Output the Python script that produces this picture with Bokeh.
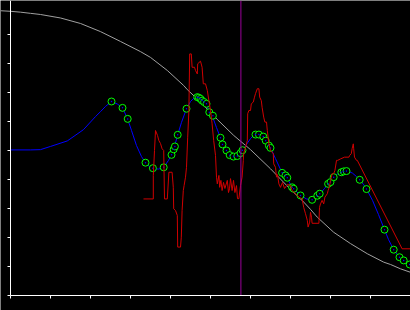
from bokeh.plotting import figure
from bokeh.models import Range1d, LinearAxis, FixedTicker, CustomJSTickFormatter
from bokeh.embed import file_html
from bokeh.resources import INLINE

# ---- data ----
gray_x = [-2.5, 0, 2.5, 5, 7.5, 12.5, 17.5, 22.5, 27.5, 32.5, 35, 39.2, 43.3, 44.2,
          47.5, 51.7, 55.8, 60, 65, 70, 72.9, 75, 76.7, 80.8, 85, 89.2, 93.3, 95, 97.5, 100]
gray_y = [98.2, 98.0, 97.7, 97.3, 96.9, 95.7, 93.8, 91.0, 87.6, 84.1, 82.1, 77.6, 72.4, 71.0,
          66.7, 60.7, 55.2, 50.3, 43.7, 36.6, 32.8, 29.7, 27.0, 21.8, 17.9, 14.4, 11.5, 10.7, 9.2, 8.0]

red_x = [33.25, 35.7, 35.7, 36.0, 36.25, 36.75, 37.1, 37.5, 37.9, 38.3,
         38.5, 39.2, 39.6, 40.4, 40.7, 40.8, 41.25, 41.7, 41.8, 42.5,
         42.7, 42.9, 43.2, 43.4, 43.75, 44.0, 44.3, 44.6, 44.8, 45.2,
         45.4, 46.0, 46.25, 46.7, 46.8, 47.5, 47.9, 48.2, 48.75, 49.2,
         49.6, 50.0, 50.4, 50.8, 51.25, 51.5, 51.7, 52.1, 52.3, 52.6,
         52.9, 53.25, 53.6, 54.2, 54.5, 54.75, 55.0, 55.4, 55.75, 56.1,
         56.5, 56.75, 57.1, 57.5, 57.9, 58.2, 58.3, 58.75, 59.2, 59.3,
         59.6, 60.0, 60.2, 60.7, 61.0, 61.25, 61.7, 62.1, 62.3, 62.7,
         62.9, 63.3, 63.6, 64.0, 64.2, 64.6, 65.0, 65.7, 65.8, 66.25,
         66.5, 66.75, 67.1, 67.5, 68.0, 68.5, 69.25, 70.0, 70.4, 71.25,
         72.1, 72.9, 73.3, 73.75, 74.2, 74.4, 74.8, 75.0, 75.25, 75.4,
         77.1, 77.25, 77.5, 77.9, 78.3, 78.6, 79.2, 79.4, 79.75, 80.0,
         80.4, 80.8, 81.1, 81.5, 81.8, 82.5, 83.5, 84.6, 84.8, 85.2,
         85.4, 85.7, 85.8, 86.0, 86.5, 86.7, 97.9, 100]
red_y = [33.3, 33.3, 41.4, 50.0, 56.9, 55.2, 53.4, 52.4, 50.6, 50.0,
         33.3, 33.3, 42.5, 42.5, 37.3, 29.9, 29.3, 27.6, 16.7, 16.7,
         20.1, 29.3, 36.2, 37.9, 40.8, 44.2, 54.6, 63.8, 83.3, 83.3,
         78.7, 78.7, 77.6, 76.4, 79.9, 80.8, 78.7, 73.0, 73.0, 70.7,
         67.2, 63.8, 59.2, 53.4, 48.3, 40.8, 38.5, 41.4, 37.3, 39.7,
         36.2, 39.0, 36.9, 39.7, 35.5, 36.8, 40.3, 36.2, 39.7, 35.5,
         37.9, 33.4, 33.4, 37.9, 40.8, 46.6, 49.0, 51.1, 53.4, 62.7,
         63.8, 63.8, 66.1, 66.7, 68.4, 69.6, 71.3, 71.3, 68.4, 67.2,
         64.9, 61.5, 59.8, 59.8, 56.9, 52.3, 50.0, 48.9, 45.4, 44.2,
         40.8, 41.7, 38.5, 37.3, 39.0, 36.9, 38.3, 37.9, 36.2, 35.1,
         33.9, 33.3, 30.4, 28.2, 25.9, 23.6, 25.3, 28.7, 27.0, 24.9,
         24.9, 30.4, 31.6, 32.8, 31.6, 33.9, 35.1, 36.2, 37.6, 39.7,
         42.0, 42.0, 43.1, 46.6, 46.6, 47.1, 47.7, 47.7, 48.3, 48.9,
         50.6, 52.3, 50.6, 47.7, 46.6, 46.6, 16.1, 16.1]

blue_x = [0, 5, 7.5, 10, 14.2, 18.25, 21.25, 22.5, 23.75, 25.25,
          26.75, 28.0, 29.25, 30.25, 31.5, 32.75, 33.75, 35.0, 35.75, 37.0,
          38.25, 39.5, 40.25, 41.0, 41.8, 42.75, 44.0, 45.0, 46.25, 47.1,
          48.0, 49.0, 49.75, 50.5, 51.5, 52.5, 53.0, 54.0, 54.8, 55.75,
          56.7, 57.5, 58.0, 59.0, 60.0, 61.25, 62.1, 63.2, 63.8, 64.6,
          65.0, 66.25, 67.9, 68.75, 69.25, 70.4, 70.8, 72.5, 74.0, 75.25,
          76.7, 77.5, 78.5, 79.4, 80.0, 80.8, 81.75, 82.7, 83.5, 84.5,
          85.5, 86.5, 87.3, 88.25, 89.0, 90.5, 92.0, 93.5, 94.5, 95.8,
          97.25, 98.3, 99.8]
blue_y = [50.2, 50.2, 50.3, 51.4, 53.3, 57.2, 61.7, 63.4, 65.2, 66.9,
          66.0, 64.7, 61.0, 56.9, 51.7, 47.9, 45.8, 44.1, 43.7, 43.6,
          44.1, 46.6, 48.5, 51.4, 55.4, 59.7, 64.4, 66.9, 68.6, 68.3,
          67.2, 65.9, 63.2, 61.7, 57.9, 54.4, 52.1, 50.0, 48.4, 47.8,
          48.1, 49.1, 50.0, 52.1, 54.1, 56.0, 55.9, 54.8, 53.4, 51.7,
          50.9, 47.2, 42.3, 41.4, 40.3, 37.3, 36.8, 34.5, 33.3, 33.0,
          34.4, 35.3, 36.9, 38.5, 39.1, 40.8, 41.9, 42.5, 42.8, 42.8,
          42.2, 41.0, 39.9, 38.3, 36.7, 32.8, 27.9, 22.7, 19.3, 15.8,
          13.2, 12.1, 10.7]

pts_x = [25.25, 28.0, 29.3, 33.75, 35.6, 38.3, 40.25, 40.8, 41.1, 41.8,
         44.0, 46.7, 47.1, 47.5, 47.9, 48.4, 49.0, 49.7, 50.6, 52.5,
         53.0, 54.0, 54.8, 55.75, 56.7, 57.5, 58.0, 61.25, 62.1, 63.2,
         63.8, 64.6, 65.0, 67.9, 68.75, 69.2, 70.4, 70.8, 72.5, 75.4,
         76.7, 77.3, 79.4, 80.0, 80.8, 82.7, 83.3, 84.0, 87.3, 89.0,
         93.5, 95.8, 97.25, 98.3, 99.8]
pts_y = [66.9, 64.7, 60.9, 45.8, 43.9, 44.2, 48.5, 50.4, 51.4, 55.4,
         64.4, 68.4, 68.2, 67.8, 67.2, 66.7, 66.1, 63.2, 62.0, 54.4,
         52.1, 50.0, 48.4, 47.9, 48.1, 49.1, 50.1, 55.5, 55.5, 54.8,
         53.4, 51.7, 50.9, 42.3, 41.4, 40.6, 37.3, 36.8, 34.5, 33.0,
         34.4, 35.1, 38.5, 39.1, 40.8, 42.5, 42.8, 42.9, 39.9, 36.7,
         22.7, 15.8, 13.2, 12.1, 10.7]

marker_x = 57.6
x_ticks = [0, 10, 20, 30, 40, 50, 60, 70, 80, 90]
y_ticks = [0, 10, 20, 30, 40, 50, 60, 70, 80, 90]

# ---- figure ----
x_lo, x_hi = -2.5, 100
y_lo, y_hi = -15 / 2.9, 295 / 2.9

p = figure(width=410, height=310, output_backend="svg", toolbar_location=None,
           x_range=Range1d(x_lo, x_hi), y_range=Range1d(y_lo, y_hi),
           x_axis_location=None, y_axis_location=None,
           min_border=0, background_fill_color="black", border_fill_color="black")
p.outline_line_color = None
p.xgrid.visible = False
p.ygrid.visible = False

blank = CustomJSTickFormatter(code="return ''")
for dim, ticks, loc in (("x", x_ticks, "below"), ("y", y_ticks, "left")):
    ax = LinearAxis(ticker=FixedTicker(ticks=ticks), formatter=blank,
                    fixed_location=0,
                    axis_line_color="white", axis_line_width=1,
                    major_tick_line_color="white", major_tick_out=3, major_tick_in=0,
                    minor_tick_line_color=None, major_label_text_font_size="1px")
    ax.bounds = (0, x_hi) if dim == "x" else (0, y_hi)
    p.add_layout(ax, loc)

p.line(gray_x, gray_y, line_color="#a0a0a0", line_width=1)
p.line(blue_x, blue_y, line_color="#0000ff", line_width=1)
p.scatter(pts_x, pts_y, marker="circle", size=7, fill_color="black",
          line_color="#00ff00", line_width=1)
p.scatter(pts_x, pts_y, marker="circle", size=1.5, fill_color="#0000ff", line_color=None)
p.line(red_x, red_y, line_color="#d00000", line_width=1)
p.segment(x0=[marker_x], y0=[0], x1=[marker_x], y1=[y_hi], line_color="#990099", line_width=1)

open("out.html", "w").write(file_html(p, INLINE))
